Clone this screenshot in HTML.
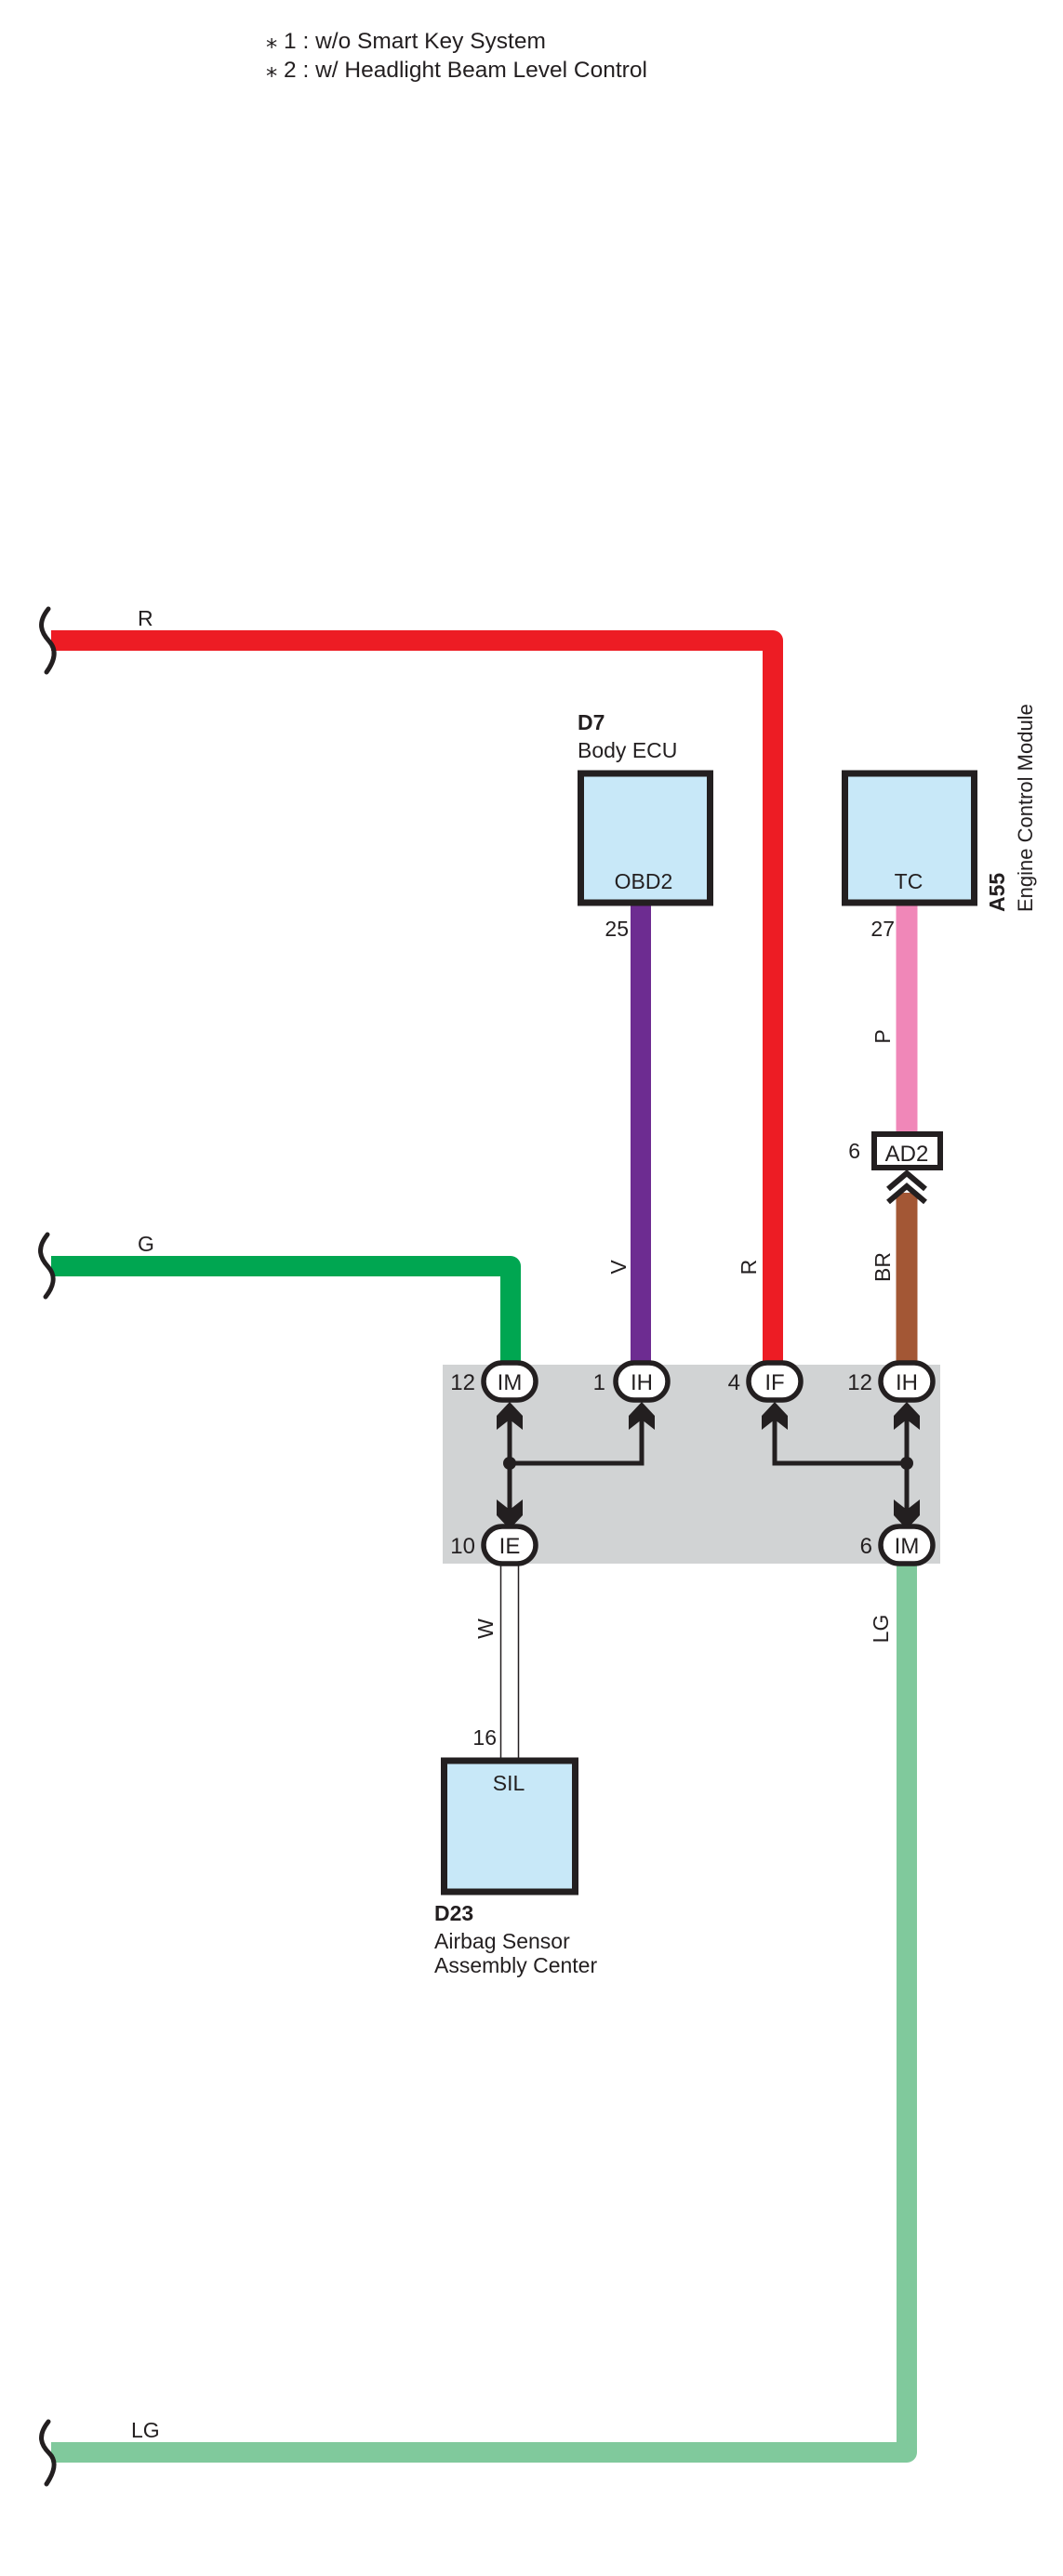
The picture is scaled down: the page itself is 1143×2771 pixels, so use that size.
<!DOCTYPE html>
<html><head><meta charset="utf-8"><style>
html,body{margin:0;padding:0;background:#fff;}
svg{display:block;}
text{font-family:"Liberation Sans",Arial,sans-serif;fill:#231f20;}
</style></head><body>
<svg width="1143" height="2771" viewBox="0 0 1143 2771" xmlns="http://www.w3.org/2000/svg">
<!-- notes -->
<text x="286" y="52" font-size="24.5">⁎ 1 : w/o Smart Key System</text>
<text x="286" y="83" font-size="24.5">⁎ 2 : w/ Headlight Beam Level Control</text>

<!-- gray junction block -->
<rect x="476" y="1468" width="535" height="214" fill="#d1d3d4"/>

<!-- wires -->
<path d="M55 689 H831 V1470" fill="none" stroke="#ed1c24" stroke-width="22" stroke-linejoin="round"/>
<path d="M55 1362 H549 V1470" fill="none" stroke="#00a651" stroke-width="22" stroke-linejoin="round"/>
<line x1="689" y1="972" x2="689" y2="1470" stroke="#6d2c91" stroke-width="22"/>
<line x1="975" y1="972" x2="975" y2="1219" stroke="#f087b8" stroke-width="23"/>
<line x1="975" y1="1283" x2="975" y2="1470" stroke="#a35735" stroke-width="23"/>
<path d="M975 1680 V2638 H55" fill="none" stroke="#80c99c" stroke-width="22" stroke-linejoin="round"/>
<line x1="538.5" y1="1682" x2="538.5" y2="1893" stroke="#231f20" stroke-width="1.5"/>
<line x1="557.5" y1="1682" x2="557.5" y2="1893" stroke="#231f20" stroke-width="1.5"/>

<!-- break marks -->
<g fill="none" stroke="#231f20" stroke-width="5" stroke-linecap="round">
<path d="M52 655 C40 670,44 680,53 690 C62 700,58 712,50 723"/>
<path d="M51 1328 C39 1343,43 1353,52 1363 C61 1373,57 1385,49 1395"/>
<path d="M52 2605 C40 2620,44 2630,53 2639 C62 2648,58 2660,50 2672"/>
</g>

<!-- wire labels -->
<text x="148" y="673" font-size="23">R</text>
<text x="148" y="1346" font-size="23">G</text>
<text x="141" y="2622" font-size="23">LG</text>
<g font-size="23" text-anchor="middle">
<text transform="translate(673 1363) rotate(-90)">V</text>
<text transform="translate(813 1363) rotate(-90)">R</text>
<text transform="translate(957 1115) rotate(-90)">P</text>
<text transform="translate(957 1363) rotate(-90)">BR</text>
<text transform="translate(530 1752) rotate(-90)">W</text>
<text transform="translate(955 1752) rotate(-90)">LG</text>
</g>

<!-- ECU boxes -->
<rect x="624.5" y="832" width="139" height="139" fill="#c8e8f8" stroke="#231f20" stroke-width="7"/>
<rect x="908.5" y="832" width="139" height="139" fill="#c8e8f8" stroke="#231f20" stroke-width="7"/>
<rect x="477.5" y="1894" width="141" height="141" fill="#c8e8f8" stroke="#231f20" stroke-width="7"/>
<text x="692" y="956" font-size="23" text-anchor="middle">OBD2</text>
<text x="977" y="956" font-size="23" text-anchor="middle">TC</text>
<text x="547" y="1926" font-size="23" text-anchor="middle">SIL</text>
<text x="621" y="785" font-size="23" font-weight="bold">D7</text>
<text x="621" y="815" font-size="23">Body ECU</text>
<text x="467" y="2066" font-size="23" font-weight="bold">D23</text>
<text x="467" y="2096" font-size="23">Airbag Sensor</text>
<text x="467" y="2122" font-size="23">Assembly Center</text>
<text transform="translate(1080 981) rotate(-90)" font-size="23" font-weight="bold">A55</text>
<text transform="translate(1110 981) rotate(-90)" font-size="22">Engine Control Module</text>
<text x="676" y="1007" font-size="23" text-anchor="end">25</text>
<text x="962" y="1007" font-size="23" text-anchor="end">27</text>
<text x="534" y="1877" font-size="23" text-anchor="end">16</text>

<!-- AD2 connector -->
<rect x="940" y="1220" width="71" height="36" fill="#fff" stroke="#231f20" stroke-width="6"/>
<text x="975" y="1249" font-size="24" text-anchor="middle">AD2</text>
<text x="925" y="1246" font-size="23" text-anchor="end">6</text>
<g fill="none" stroke="#231f20" stroke-width="6">
<polyline points="955,1279 975,1262 995,1279"/>
<polyline points="955,1293 975,1276 995,1293"/>
</g>

<!-- junction internal lines -->
<g stroke="#231f20" stroke-width="5" fill="none">
<path d="M548 1515 V1640"/>
<path d="M548 1574 H690 V1515"/>
<path d="M975 1515 V1640"/>
<path d="M975 1574 H833 V1515"/>
</g>
<circle cx="548" cy="1574" r="7" fill="#231f20"/>
<circle cx="975" cy="1574" r="7" fill="#231f20"/>
<g fill="#231f20">
<polygon points="548,1508 562,1523 562,1538 548,1527 534,1538 534,1523"/>
<polygon points="690,1508 704,1523 704,1538 690,1527 676,1538 676,1523"/>
<polygon points="833,1508 847,1523 847,1538 833,1527 819,1538 819,1523"/>
<polygon points="975,1508 989,1523 989,1538 975,1527 961,1538 961,1523"/>
<polygon points="548,1645 562,1630 562,1613 548,1624 534,1613 534,1630"/>
<polygon points="975,1645 989,1630 989,1613 975,1624 961,1613 961,1630"/>
</g>

<!-- connector ovals -->
<g fill="#fff" stroke="#231f20" stroke-width="5.5">
<rect x="520" y="1466" width="56" height="40" rx="20"/>
<rect x="662" y="1466" width="56" height="40" rx="20"/>
<rect x="805" y="1466" width="56" height="40" rx="20"/>
<rect x="947" y="1466" width="56" height="40" rx="20"/>
<rect x="520" y="1642" width="56" height="40" rx="20"/>
<rect x="947" y="1642" width="56" height="40" rx="20"/>
</g>
<g font-size="24" text-anchor="middle">
<text x="548" y="1495">IM</text>
<text x="690" y="1495">IH</text>
<text x="833" y="1495">IF</text>
<text x="975" y="1495">IH</text>
<text x="548" y="1671">IE</text>
<text x="975" y="1671">IM</text>
</g>
<g font-size="24" text-anchor="end">
<text x="511" y="1495">12</text>
<text x="651" y="1495">1</text>
<text x="796" y="1495">4</text>
<text x="938" y="1495">12</text>
<text x="511" y="1671">10</text>
<text x="938" y="1671">6</text>
</g>
</svg>
</body></html>
